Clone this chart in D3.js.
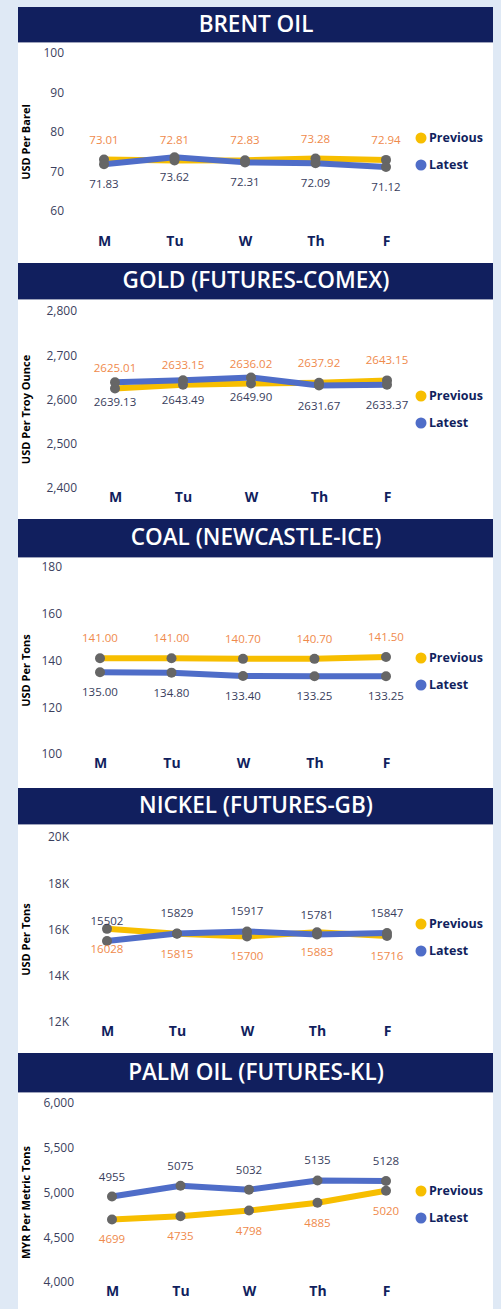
<!DOCTYPE html>
<html>
<head>
<meta charset="utf-8">
<script src="https://cdn.jsdelivr.net/npm/d3@7"></script>
<style>
  body { margin: 0; background: #dfe9f5; }
  svg { display: block; font-family: "Segoe UI", "Open Sans", sans-serif; }
</style>
</head>
<body>
<div class="container"></div>
<script>
const width = 501;
const height = 1309;

// dados
const days = ['M', 'Tu', 'W', 'Th', 'F'];

const brentPrev = [73.01, 72.81, 72.83, 73.28, 72.94];
const brentLatest = [71.83, 73.62, 72.31, 72.09, 71.12];
const brentTicks = [60, 70, 80, 90, 100];

const goldPrev = [2625.01, 2633.15, 2636.02, 2637.92, 2643.15];
const goldLatest = [2639.13, 2643.49, 2649.90, 2631.67, 2633.37];
const goldTicks = [2400, 2500, 2600, 2700, 2800];

const coalPrev = [141.00, 141.00, 140.70, 140.70, 141.50];
const coalLatest = [135.00, 134.80, 133.40, 133.25, 133.25];
const coalTicks = [100, 120, 140, 160, 180];

const nickelPrev = [16028, 15815, 15700, 15883, 15716];
const nickelLatest = [15502, 15829, 15917, 15781, 15847];
const nickelTicks = [12000, 14000, 16000, 18000, 20000];

const palmPrev = [4699, 4735, 4798, 4885, 5020];
const palmLatest = [4955, 5075, 5032, 5135, 5128];
const palmTicks = [4000, 4500, 5000, 5500, 6000];

const seriesNames = ['Previous', 'Latest'];

const corPrev = '#f7be00';
const corLatest = '#4f6dc8';
const corMarcador = '#666666';
const corRotPrev = '#ef8a4c';
const corRotLatest = '#383d5c';
const corNavy = '#111f5e';

// paineis (layout + referencias aos dados)
const paineis = [
  { titulo: 'BRENT OIL', eixo: 'USD Per Barel', prev: brentPrev, latest: brentLatest, ticks: brentTicks,
    fmtTick: d3.format('d'), fmtVal: d3.format('.2f'), latestAcima: false,
    hTop: 7, hBot: 42, yTop: 53, yBot: 211, xLab: 245, xIni: 104, xFim: 386, tickX: 64, legY: 138 },
  { titulo: 'GOLD (FUTURES-COMEX)', eixo: 'USD Per Troy Ounce', prev: goldPrev, latest: goldLatest, ticks: goldTicks,
    fmtTick: d3.format(','), fmtVal: d3.format('.2f'), latestAcima: false,
    hTop: 263, hBot: 299, yTop: 311, yBot: 488, xLab: 501, xIni: 115, xFim: 387, tickX: 77, legY: 396 },
  { titulo: 'COAL (NEWCASTLE-ICE)', eixo: 'USD Per Tons', prev: coalPrev, latest: coalLatest, ticks: coalTicks,
    fmtTick: d3.format('d'), fmtVal: d3.format('.2f'), latestAcima: false,
    hTop: 519, hBot: 557, yTop: 567, yBot: 754, xLab: 767, xIni: 100, xFim: 386, tickX: 62, legY: 658 },
  { titulo: 'NICKEL (FUTURES-GB)', eixo: 'USD Per Tons', prev: nickelPrev, latest: nickelLatest, ticks: nickelTicks,
    fmtTick: d => (d / 1000) + 'K', fmtVal: d3.format('d'), latestAcima: true,
    hTop: 788, hBot: 824, yTop: 837, yBot: 1022, xLab: 1035, xIni: 107, xFim: 387, tickX: 69, legY: 924 },
  { titulo: 'PALM OIL (FUTURES-KL)', eixo: 'MYR Per Metric Tons', prev: palmPrev, latest: palmLatest, ticks: palmTicks,
    fmtTick: d3.format(','), fmtVal: d3.format('d'), latestAcima: true,
    hTop: 1053, hBot: 1092, yTop: 1103, yBot: 1282, xLab: 1295, xIni: 112, xFim: 386, tickX: 74, legY: 1191 }
];

const svg = d3.select('.container')
  .append('svg')
  .attr('width', width)
  .attr('height', height);

// fundo branco
svg.append('rect')
  .attr('x', 18)
  .attr('y', 7)
  .attr('width', 475)
  .attr('height', height - 7)
  .attr('fill', '#fff');

paineis.forEach(p => desenharPainel(svg.append('g').attr('class', 'painel'), p));

function desenharPainel(g, p) {
  // cabecalho
  g.append('rect')
    .attr('x', 18)
    .attr('y', p.hTop)
    .attr('width', 475)
    .attr('height', p.hBot - p.hTop)
    .attr('fill', corNavy);

  g.append('line')
    .attr('x1', 18).attr('x2', 493)
    .attr('y1', p.hBot + 0.5).attr('y2', p.hBot + 0.5)
    .attr('stroke', '#9ea3bb')
    .attr('stroke-width', 1);

  g.append('text')
    .attr('x', 256)
    .attr('y', (p.hTop + p.hBot) / 2 - 1)
    .attr('dy', '0.36em')
    .attr('text-anchor', 'middle')
    .attr('fill', '#fff')
    .attr('font-size', '22.5px')
    .attr('font-weight', 600)
    .text(p.titulo);

  const x = d3.scalePoint()
    .domain(days)
    .range([p.xIni, p.xFim]);

  const y = d3.scaleLinear()
    .domain(d3.extent(p.ticks))
    .range([p.yBot, p.yTop]);

  // eixo y
  const eixoY = g.append('g')
    .attr('transform', `translate(${p.tickX},0)`)
    .call(d3.axisLeft(y).tickValues(p.ticks).tickFormat(p.fmtTick).tickSize(0).tickPadding(0));
  eixoY.select('.domain').remove();
  eixoY.selectAll('text')
    .attr('fill', '#3b3f5e')
    .attr('font-size', '12px')
    .attr('font-family', '"Segoe UI", "Open Sans", sans-serif');

  // eixo x
  const eixoX = g.append('g')
    .attr('transform', `translate(0,${p.xLab - 9})`)
    .call(d3.axisBottom(x).tickSize(0).tickPadding(0));
  eixoX.select('.domain').remove();
  eixoX.selectAll('text')
    .attr('fill', corNavy)
    .attr('font-size', '14px')
    .attr('font-weight', 'bold')
    .attr('font-family', '"Segoe UI", "Open Sans", sans-serif');

  // titulo do eixo y
  g.append('text')
    .attr('transform', `translate(26,${(p.yTop + p.yBot) / 2 + 10}) rotate(-90)`)
    .attr('text-anchor', 'middle')
    .attr('dy', '0.35em')
    .attr('font-size', '11px')
    .attr('font-weight', 'bold')
    .attr('fill', '#000')
    .text(p.eixo);

  const linha = d3.line()
    .x((d, i) => x(days[i]))
    .y(d => y(d));

  // linhas
  g.append('path')
    .datum(p.prev)
    .attr('d', linha)
    .attr('fill', 'none')
    .attr('stroke', corPrev)
    .attr('stroke-width', 6)
    .attr('stroke-linejoin', 'round');

  g.append('path')
    .datum(p.latest)
    .attr('d', linha)
    .attr('fill', 'none')
    .attr('stroke', corLatest)
    .attr('stroke-width', 6)
    .attr('stroke-linejoin', 'round');

  // marcadores
  [p.prev, p.latest].forEach(serie => {
    g.selectAll(null)
      .data(serie)
      .enter()
      .append('circle')
      .attr('cx', (d, i) => x(days[i]))
      .attr('cy', d => y(d))
      .attr('r', 5)
      .attr('fill', corMarcador);
  });

  // rotulos
  const desloc = 20;
  g.selectAll(null)
    .data(p.prev)
    .enter()
    .append('text')
    .attr('x', (d, i) => x(days[i]))
    .attr('y', d => y(d) + (p.latestAcima ? desloc : -desloc))
    .attr('dy', '0.35em')
    .attr('text-anchor', 'middle')
    .attr('font-size', '11.5px')
    .attr('fill', corRotPrev)
    .text(d => p.fmtVal(d));

  g.selectAll(null)
    .data(p.latest)
    .enter()
    .append('text')
    .attr('x', (d, i) => x(days[i]))
    .attr('y', d => y(d) + (p.latestAcima ? -desloc : desloc))
    .attr('dy', '0.35em')
    .attr('text-anchor', 'middle')
    .attr('font-size', '11.5px')
    .attr('fill', corRotLatest)
    .text(d => p.fmtVal(d));

  // legenda
  const legenda = g.append('g')
    .attr('transform', `translate(421,${p.legY})`);

  seriesNames.forEach((nome, i) => {
    legenda.append('circle')
      .attr('cx', 0)
      .attr('cy', i * 27)
      .attr('r', 5.5)
      .attr('fill', i === 0 ? corPrev : corLatest);
    legenda.append('text')
      .attr('x', 8)
      .attr('y', i * 27)
      .attr('dy', '0.35em')
      .attr('font-size', '12.5px')
      .attr('font-weight', 'bold')
      .attr('fill', corNavy)
      .text(nome);
  });
}
</script>
</body>
</html>
